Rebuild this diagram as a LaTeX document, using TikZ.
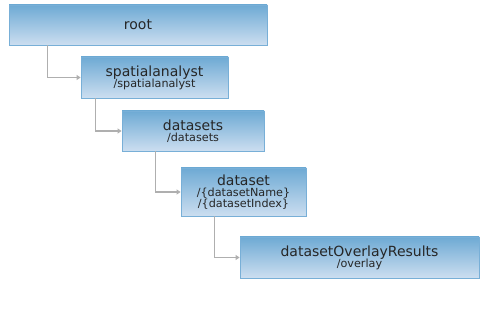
\documentclass[tikz,border=0pt]{standalone}
\usepackage{fontspec}
\setmainfont{DejaVu Sans}
\usetikzlibrary{arrows.meta,calc}
\definecolor{boxtop}{RGB}{110,170,212}
\definecolor{boxbot}{RGB}{204,222,240}
\definecolor{boxline}{RGB}{120,175,215}
\definecolor{conncol}{RGB}{175,175,175}
\newcommand{\ttl}[1]{{\fontsize{14}{16}\selectfont #1}}
\newcommand{\sub}[1]{{\fontsize{11.2}{13}\selectfont #1}}
\tikzset{
  box/.style={draw=boxline, line width=0.8pt, top color=boxtop, bottom color=boxbot,
    rectangle, align=center, inner sep=0pt, text=black!85},
  conn/.style={draw=conncol, line width=1.4pt, -{Triangle[width=5pt,length=4pt]}}
}
\begin{document}
\begin{tikzpicture}[x=1pt,y=-1pt]
\useasboundingbox (0,0) rectangle (480,320);
\node[box, minimum width=258pt, minimum height=40pt] (root) at (138,25) {\ttl{root}};
\node[box, minimum width=147pt, minimum height=41pt] (spat) at (154.5,77.5) {\ttl{spatialanalyst}\\[-1pt]\sub{/spatialanalyst}};
\node[box, minimum width=142pt, minimum height=40pt] (dsets) at (193,131) {\ttl{datasets}\\[-1pt]\sub{/datasets}};
\node[box, minimum width=125pt, minimum height=48pt] (dset) at (243.5,192) {\ttl{dataset}\\[-1pt]\sub{/\{datasetName\}}\\[-1.5pt]\sub{/\{datasetIndex\}}};
\node[box, minimum width=239pt, minimum height=41pt] (dor) at (359.5,257.5) {\ttl{datasetOverlayResults}\\[-1pt]\sub{/overlay}};
\draw[conn] ($(root.south west)+(39,0)$) |- (spat.west);
\draw[conn] ($(spat.south west)+(15,0)$) |- (dsets.west);
\draw[conn] ($(dsets.south west)+(34,0)$) |- (dset.west);
\draw[conn] ($(dset.south west)+(34,0)$) |- (dor.west);
\end{tikzpicture}
\end{document}
